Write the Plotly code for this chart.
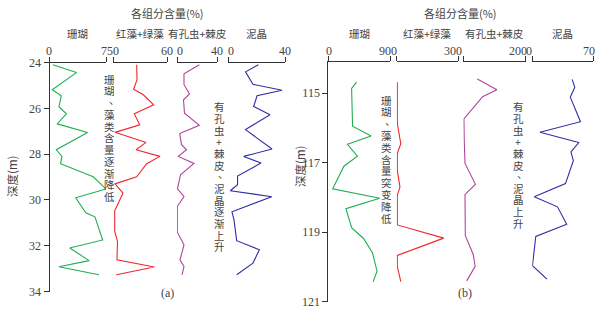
import plotly.graph_objects as go

W, H = 604, 311

# ---------------- data: panel (a) ----------------
a_coral_depth = [24.1, 24.44, 25.19, 25.45, 25.93, 26.24, 26.68, 27.06, 27.81, 28.1, 28.42, 28.99, 29.52, 29.91, 30.56, 30.74, 31.75, 32.1, 32.65, 32.92, 33.27]
a_coral = [4.4, 35.8, 3.6, 15.7, 12.5, 22.4, 10.3, 50.5, 9.0, 16.5, 14.7, 58.0, 75.0, 34.8, 48.2, 60.3, 70.6, 26.8, 52.6, 12.5, 65.6]

a_algae_depth = [24.1, 24.76, 25.17, 25.41, 25.85, 26.24, 26.72, 27.05, 27.49, 27.81, 28.1, 28.42, 28.99, 29.3, 29.7, 30.48, 31.38, 31.82, 32.62, 32.93, 33.27]
a_algae = [26.3, 26.7, 22.8, 33.7, 45.2, 23.7, 29.7, 2.2, 36.7, 25.6, 52.2, 37.4, 26.3, 2.2, 11.1, 1.9, 1.9, 5.0, 4.4, 45.8, 3.7]

a_foram_depth = [24.1, 24.49, 24.97, 25.37, 25.63, 26.21, 26.74, 27.1, 27.59, 27.81, 28.1, 28.41, 28.9, 29.52, 29.85, 30.29, 31.41, 31.96, 32.62, 32.91, 33.27]
a_foram = [22.3, 7.0, 7.0, 12.5, 6.5, 7.5, 22.3, 2.7, 4.5, 9.5, 1.3, 17.0, 3.5, 0.5, 7.0, 0.3, 0.3, 7.0, 3.0, 7.0, 5.0]

a_mud_depth = [24.1, 24.41, 24.95, 25.21, 25.45, 25.92, 26.28, 26.93, 27.78, 28.1, 28.39, 28.96, 29.34, 29.6, 29.86, 30.52, 30.87, 31.78, 32.18, 32.76, 33.27]
a_mud = [21.3, 12.3, 17.5, 37.9, 20.4, 18.0, 29.5, 12.3, 30.9, 11.0, 23.2, 6.7, 6.7, 1.6, 30.7, 2.8, 4.2, 6.1, 22.0, 17.5, 6.1]

# ---------------- data: panel (b) ----------------
b_coral_depth = [114.68, 114.86, 115.95, 116.23, 116.47, 116.81, 117.1, 117.75, 118.02, 118.32, 118.87, 119.18, 119.59, 120.12, 120.43]
b_coral = [41.2, 34.0, 35.4, 62.4, 27.9, 42.4, 22.8, 6.4, 75.0, 25.7, 34.0, 51.4, 64.4, 71.1, 65.3]

b_algae_depth = [114.68, 115.87, 116.45, 116.73, 117.22, 117.7, 117.94, 118.79, 119.17, 119.67, 119.98, 120.42]
b_algae = [0.3, 0.3, 2.0, 0.3, 0.3, 1.6, 0.3, 0.3, 23.0, 0.3, 0.3, 2.0]

b_foram_depth = [114.59, 114.9, 115.1, 115.74, 116.35, 117.02, 117.62, 117.91, 119.1, 119.64, 119.98, 120.4]
b_foram = [45, 108, 62, 2, 3, 5.5, 39, 5.5, 6.5, 32, 38, 11]

b_mud_depth = [114.6, 114.83, 115.11, 115.82, 116.12, 116.42, 116.69, 116.94, 117.6, 117.98, 118.27, 118.77, 119.12, 119.96, 120.35]
b_mud = [45.8, 48.7, 43.6, 55.3, 8.8, 53.3, 44.4, 47.1, 38.1, 2.2, 28.9, 39.5, 4.0, 0.2, 16.9]

group_names = ["珊瑚", "红藻+绿藻", "有孔虫+棘皮", "泥晶"]
a_xmax = [75, 60, 40, 40]
b_xmax = [90, 30, 200, 70]
a_yticks = [24, 26, 28, 30, 32, 34]
b_yticks = [115, 117, 119, 121]
colors = ["#1fae4f", "#f2262b", "#b0449b", "#2e2ea6"]

# ---------------- layout geometry (pixels) ----------------
a_xdom = [(49.5, 106), (113, 167), (177, 217), (228, 285)]
b_xdom = [(328.3, 390), (396.7, 458), (463.3, 525.5), (532.3, 593.3)]
a_ydom = (62.5, 291.5)
b_ydom = (62.0, 301.7)
# placement of the two end labels of each top axis: (xanchor, xshift) for "0" and for the max
a_lab_pos = [(("center", -1), ("center", 1)), (("left", -1), ("center", 0)),
             (("left", -1), ("center", 0)), (("left", -1), ("center", 0))]
b_lab_pos = [(("center", 1), ("right", 2)), (("right", 1), ("right", -1)),
             (("right", 0), ("right", 2)), (("right", 1), ("right", 3))]

def px(x):
    return x / W

def py(y):
    return 1 - y / H

SERIF = "Liberation Serif, Noto Sans CJK SC"
CJK = "Noto Sans CJK SC, Liberation Serif"
AX = "#333333"
TXT = "#444444"

fig = go.Figure()
layout = dict(
    width=W, height=H, margin=dict(l=0, r=0, t=0, b=0, pad=0, autoexpand=False),
    paper_bgcolor="white", plot_bgcolor="white", showlegend=False,
)

a_series = [(a_coral, a_coral_depth), (a_algae, a_algae_depth), (a_foram, a_foram_depth), (a_mud, a_mud_depth)]
b_series = [(b_coral, b_coral_depth), (b_algae, b_algae_depth), (b_foram, b_foram_depth), (b_mud, b_mud_depth)]

annotations = []

for panel, (series, xmaxes, xdoms, labpos, yname, ydom, yticks, yrange) in enumerate([
    (a_series, a_xmax, a_xdom, a_lab_pos, "y", a_ydom, a_yticks, [34, 24]),
    (b_series, b_xmax, b_xdom, b_lab_pos, "y2", b_ydom, b_yticks, [121, 114.1]),
]):
    for i in range(4):
        k = panel * 4 + i + 1
        xname = "x" if k == 1 else f"x{k}"
        vals, dep = series[i]
        fig.add_trace(go.Scatter(x=vals, y=dep, mode="lines", xaxis=xname, yaxis=yname,
                                 line=dict(color=colors[i], width=1.1)))
        xkey = "xaxis" if k == 1 else f"xaxis{k}"
        layout[xkey] = dict(
            domain=[px(xdoms[i][0]), px(xdoms[i][1])], range=[0, xmaxes[i]],
            side="top", anchor=yname, showline=True, linecolor=AX, linewidth=1,
            ticks="outside", ticklen=5, tickcolor=AX, tickwidth=1,
            tickvals=[0, xmaxes[i]], showticklabels=False,
            showgrid=False, zeroline=False, fixedrange=True, automargin=False,
        )
        # end labels of the top axis, placed on the axis scale
        for val, (anc, sh) in zip([0, xmaxes[i]], labpos[i]):
            annotations.append(dict(x=val, xref=xname, y=py(50.5), yref="paper", text=str(val),
                                    showarrow=False, xanchor=anc, yanchor="middle", xshift=sh,
                                    borderpad=0, font=dict(family=SERIF, size=12, color=TXT)))
        cx = (xdoms[i][0] + xdoms[i][1]) / 2
        annotations.append(dict(x=px(cx), y=py(33), xref="paper", yref="paper", text=group_names[i],
                                showarrow=False, xanchor="center", yanchor="middle",
                                font=dict(family=CJK, size=10.5, color=TXT)))
    ykey = "yaxis" if panel == 0 else "yaxis2"
    layout[ykey] = dict(
        domain=[py(ydom[1]), py(ydom[0])], range=yrange, anchor="x" if panel == 0 else "x5",
        showline=True, linecolor=AX, linewidth=1, ticks="outside", ticklen=5, tickcolor=AX,
        tickvals=yticks, ticktext=[str(t) for t in yticks],
        tickfont=dict(family=SERIF, size=12, color=TXT),
        showgrid=False, zeroline=False, fixedrange=True, automargin=False,
    )

# titles
for cx in (167, 460):
    annotations.append(dict(x=px(cx), y=py(13), xref="paper", yref="paper", text="各组分含量(%)",
                            showarrow=False, xanchor="center", yanchor="middle",
                            font=dict(family=CJK, size=11, color=TXT)))
# y-axis titles
for cx, cy in ((12, 177), (300, 167)):
    annotations.append(dict(x=px(cx), y=py(cy), xref="paper", yref="paper", text="深度(m)",
                            showarrow=False, xanchor="center", yanchor="middle", textangle=-90,
                            font=dict(family=CJK, size=11.5, color=TXT)))
# panel labels
for cx, lab in ((167, "(a)"), (465, "(b)")):
    annotations.append(dict(x=px(cx), y=py(293), xref="paper", yref="paper", text=lab,
                            showarrow=False, xanchor="center", yanchor="middle",
                            font=dict(family=SERIF, size=12, color=TXT)))

# vertical CJK annotations, one character per position
def vtext(s, x, y0, y1):
    step = (y1 - y0) / (len(s) - 1)
    for j, ch in enumerate(s):
        dx, dy = (4, -3) if ch == "、" else (0, 0)
        annotations.append(dict(x=px(x + dx), y=py(y0 + j * step + dy), xref="paper", yref="paper", text=ch,
                                showarrow=False, xanchor="center", yanchor="middle",
                                height=11, borderpad=0,
                                font=dict(family=CJK, size=10.5, color=TXT)))

vtext("珊瑚、藻类含量逐渐降低", 110, 79, 196.7)
vtext("有孔虫+棘皮、泥晶逐渐上升", 219.3, 106.7, 246.7)
vtext("珊瑚、藻类含量突变降低", 386.7, 100, 218.3)
vtext("有孔虫+棘皮、泥晶上升", 518.3, 106.7, 223.3)

layout["annotations"] = annotations
fig.update_layout(**layout)
fig.write_html(
    "out.html",
    config={"displayModeBar": False},
    post_script="document.body.style.margin='0';document.body.style.padding='0';document.body.style.overflow='hidden';",
)
